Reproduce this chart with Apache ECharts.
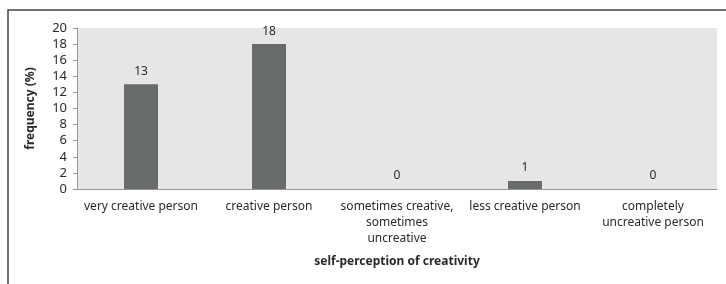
<!DOCTYPE html>
<html>
<head>
<meta charset="utf-8">
<script src="https://cdn.jsdelivr.net/npm/echarts@6/dist/echarts.min.js"></script>
<style>
  html, body { margin: 0; padding: 0; background: #fff; }
  #main { width: 726px; height: 284px; }
</style>
</head>
<body>
<div id="main"></div>
<script>
// 数据
var categories = [
  "very creative person",
  "creative person",
  "sometimes creative,\nsometimes\nuncreative",
  "less creative person",
  "completely\nuncreative person"
];
var frequency = [13, 18, 0, 1, 0];
var yTicks = [0, 2, 4, 6, 8, 10, 12, 14, 16, 18, 20];

var chartDom = document.getElementById("main");
var myChart = echarts.init(chartDom);
var font = "'Noto Sans', 'DejaVu Sans', sans-serif";

var option = {
  animation: false,
  textStyle: { fontFamily: font },
  graphic: [
    {
      type: "rect",
      shape: { x: 8, y: 10, width: 900, height: 400 },
      style: { fill: null, stroke: "#444", lineWidth: 1.5 },
      silent: true
    }
  ],
  grid: {
    left: 77,
    right: 9,
    top: 28,
    bottom: 95,
    show: true,
    backgroundColor: "#e5e6e5",
    borderWidth: 0
  },
  xAxis: {
    type: "category",
    data: categories,
    name: "self-perception of creativity",
    nameLocation: "middle",
    nameGap: 67,
    nameTextStyle: { fontWeight: "bold", fontSize: 12, color: "#2a2a2a", fontFamily: font },
    axisLine: { lineStyle: { color: "#999" } },
    axisTick: { show: false },
    axisLabel: {
      color: "#2a2a2a",
      fontSize: 12,
      lineHeight: 16,
      margin: 10,
      interval: 0,
      fontFamily: font
    }
  },
  yAxis: {
    type: "value",
    min: yTicks[0],
    max: yTicks[yTicks.length - 1],
    interval: yTicks[1] - yTicks[0],
    name: "frequency (%)",
    nameLocation: "middle",
    nameGap: 40,
    nameTextStyle: { fontWeight: "bold", fontSize: 12, color: "#2a2a2a", fontFamily: font },
    axisLine: { show: true, lineStyle: { color: "#999" } },
    axisTick: { show: true, length: 4, lineStyle: { color: "#999" } },
    axisLabel: { color: "#2a2a2a", fontSize: 13, margin: 10, fontFamily: font },
    splitLine: { show: false }
  },
  series: [
    {
      type: "bar",
      data: frequency,
      barWidth: 34,
      itemStyle: { color: "#676b6b" },
      label: {
        show: true,
        position: "top",
        distance: 7,
        color: "#2a2a2a",
        fontSize: 12,
        fontFamily: font
      }
    }
  ]
};

option && myChart.setOption(option);
</script>
</body>
</html>
